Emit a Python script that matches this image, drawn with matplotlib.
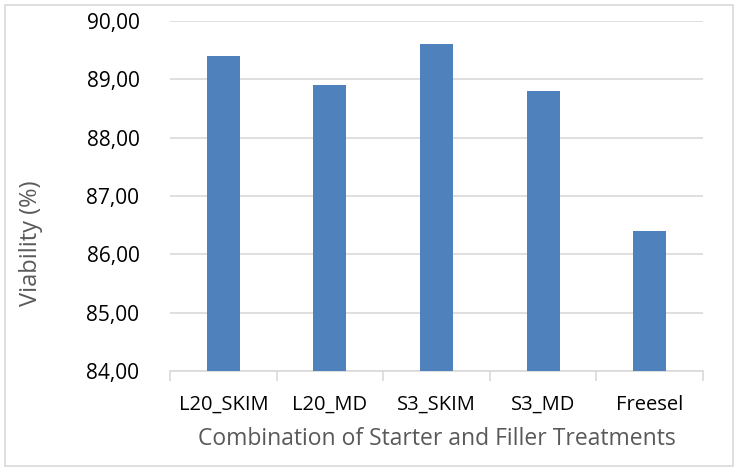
import matplotlib

matplotlib.use("Agg")
import matplotlib.pyplot as plt
from matplotlib.patches import Rectangle
from matplotlib.ticker import FuncFormatter, FixedLocator

plt.rcParams["font.family"] = ["Open Sans", "DejaVu Sans"]

categories = ["L20_SKIM", "L20_MD", "S3_SKIM", "S3_MD", "Freesel"]
viability = [89.4, 88.9, 89.6, 88.8, 86.4]

bar_color = "#4f81bd"
grid_color = "#d9d9d9"
label_color = "#595959"

fig = plt.figure(figsize=(7.38, 4.71), dpi=100)
ax = fig.add_axes([0.2304, 0.2123, 0.7222, 0.7431])

x = range(len(categories))
ax.bar(x, viability, width=0.31, color=bar_color, zorder=3)

ax.set_ylim(84, 90)
ax.set_xlim(-0.5, len(categories) - 0.5)
ax.set_yticks([84, 85, 86, 87, 88, 89, 90])
ax.yaxis.set_major_formatter(FuncFormatter(lambda v, _: f"{v:.2f}".replace(".", ",")))
ax.grid(True, axis="y", color=grid_color, linewidth=1.2, zorder=0)

ax.set_xticks(list(x))
ax.set_xticklabels(categories)
ax.xaxis.set_minor_locator(FixedLocator([i - 0.5 for i in range(len(categories) + 1)]))
ax.tick_params(axis="x", which="major", length=0, labelsize=14.5, pad=17)
ax.tick_params(axis="x", which="minor", length=7, color=grid_color, width=1.2)
ax.tick_params(axis="y", length=0, labelsize=15, pad=22)

for side in ["top", "right", "left"]:
    ax.spines[side].set_visible(False)
ax.spines["bottom"].set_color(grid_color)
ax.spines["bottom"].set_linewidth(1.2)

ax.set_xlabel("Combination of Starter and Filler Treatments", fontsize=16.5, color=label_color, labelpad=9)
ax.set_ylabel("Viability (%)", fontsize=17, color=label_color)
ax.yaxis.set_label_coords(-0.238, 0.366)

fig.patches.append(Rectangle((0.007, 0.011), 0.986, 0.978, transform=fig.transFigure,
                             fill=False, edgecolor=grid_color, linewidth=1.2))

fig.savefig("out.png", dpi=100)
